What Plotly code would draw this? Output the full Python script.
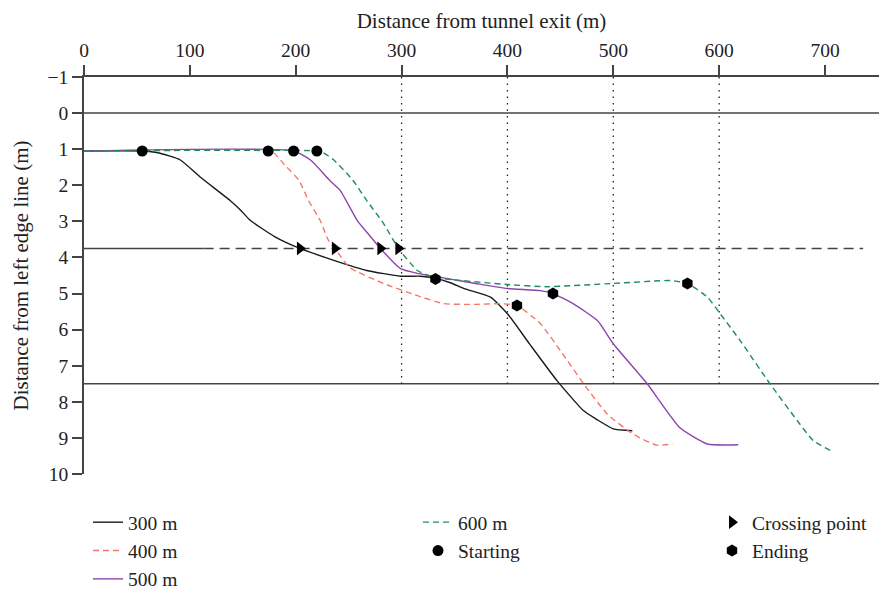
import plotly.graph_objects as go

# ---- data ----
x300 = [0, 55, 70, 91, 110, 138, 148, 157, 180, 204, 236, 267, 299, 318, 332, 346, 360, 384, 400, 421, 447, 472, 485, 500, 518]
y300 = [1.05, 1.05, 1.1, 1.3, 1.78, 2.42, 2.69, 2.97, 3.42, 3.75, 4.08, 4.36, 4.52, 4.52, 4.58, 4.7, 4.87, 5.1, 5.56, 6.4, 7.42, 8.25, 8.5, 8.75, 8.8]

x400 = [0, 174, 180, 190, 203, 212, 223, 231, 237, 251, 283, 315, 340, 370, 393, 409, 431, 450, 472, 494, 519, 541, 556]
y400 = [1.05, 1.05, 1.12, 1.45, 1.86, 2.42, 2.97, 3.53, 3.75, 4.28, 4.72, 5.06, 5.28, 5.3, 5.28, 5.33, 5.83, 6.58, 7.5, 8.33, 8.9, 9.2, 9.17]

x500 = [0, 198, 214, 232, 242, 258, 270, 280, 299, 315, 346, 370, 400, 431, 443, 462, 485, 500, 532, 563, 589, 618]
y500 = [1.05, 1.05, 1.3, 1.86, 2.14, 2.97, 3.4, 3.75, 4.31, 4.44, 4.6, 4.72, 4.86, 4.92, 5.0, 5.28, 5.75, 6.39, 7.5, 8.72, 9.17, 9.19]

x600 = [0, 220, 226, 236, 254, 267, 283, 297, 315, 330, 346, 400, 437, 500, 554, 570, 589, 601, 620, 648, 674, 689, 708]
y600 = [1.05, 1.05, 1.1, 1.3, 1.86, 2.42, 3.06, 3.75, 4.36, 4.55, 4.61, 4.75, 4.81, 4.72, 4.64, 4.72, 5.1, 5.56, 6.31, 7.5, 8.53, 9.08, 9.39]

start_x = [55, 174, 198, 220]
start_y = [1.05, 1.05, 1.05, 1.05]
cross_x = [204, 237, 280, 297]
cross_y = [3.75, 3.75, 3.75, 3.75]
end_x = [332, 409, 443, 570]
end_y = [4.6, 5.33, 5.0, 4.72]

edge_lines_y = [0, 7.5]          # solid lane/edge lines (top -1 is the axis line)
center_line_y = 3.75
center_solid_end = 113
center_dash_end = 736
line_x_end = 751
marker_x = [300, 400, 500, 600]   # dotted vertical reference lines
marker_y_top = -1
marker_y_bottom = 7.5

x_ticks = [0, 100, 200, 300, 400, 500, 600, 700]
y_ticks = list(range(-1, 11))

FONT = "Liberation Serif"
GRAY = "#444444"

fig = go.Figure()

def line_trace(x, y, name, color, dash, legend, rank):
    return go.Scatter(x=x, y=y, mode="lines", name=name,
                      line=dict(color=color, width=1.4, dash=dash, shape="spline", smoothing=0.5),
                      legend=legend, legendrank=rank, legendgroup=name)

fig.add_trace(line_trace(x300, y300, "300 m", "#1a1a1a", "solid", "legend", 1))
fig.add_trace(line_trace(x400, y400, "400 m", "#F4776A", "6px,4px", "legend", 2))
fig.add_trace(line_trace(x500, y500, "500 m", "#8E44AD", "solid", "legend", 3))
fig.add_trace(line_trace(x600, y600, "600 m", "#1E8C5E", "6px,4px", "legend2", 1))

fig.add_trace(go.Scatter(x=start_x, y=start_y, mode="markers", name="Starting",
                         marker=dict(symbol="circle", size=11, color="black"),
                         legend="legend2", legendrank=2, legendgroup="Starting"))
fig.add_trace(go.Scatter(x=cross_x, y=cross_y, mode="markers", name="Crossing point",
                         marker=dict(symbol="triangle-right", size=12, color="black"),
                         legend="legend3", legendrank=1, legendgroup="Crossing"))
fig.add_trace(go.Scatter(x=end_x, y=end_y, mode="markers", name="Ending",
                         marker=dict(symbol="hexagon", size=12, color="black"),
                         legend="legend3", legendrank=2, legendgroup="Ending"))

# reference lines
for yv in edge_lines_y:
    fig.add_shape(type="line", xref="x", yref="y", x0=0, x1=line_x_end, y0=yv, y1=yv,
                  line=dict(color=GRAY, width=1.5), layer="below")
fig.add_shape(type="line", xref="x", yref="y", x0=0, x1=center_solid_end,
              y0=center_line_y, y1=center_line_y, line=dict(color=GRAY, width=1.5), layer="below")
fig.add_shape(type="line", xref="x", yref="y", x0=center_solid_end, x1=center_dash_end,
              y0=center_line_y, y1=center_line_y,
              line=dict(color=GRAY, width=1.5, dash="10px,6px"), layer="below")
for xv in marker_x:
    fig.add_shape(type="line", xref="x", yref="y", x0=xv, x1=xv, y0=marker_y_top, y1=marker_y_bottom,
                  line=dict(color="#222222", width=1.3, dash="1.5px,5px"), layer="below")

W, H = 881, 590
leg_common = dict(orientation="v", xref="container", yref="container", yanchor="top", xanchor="left",
                  font=dict(family=FONT, size=19.5, color="#222"), bgcolor="rgba(0,0,0,0)",
                  tracegroupgap=0, itemwidth=30)

fig.update_layout(
    width=W, height=H,
    margin=dict(l=84, r=2, t=77, b=116, autoexpand=False),
    paper_bgcolor="white", plot_bgcolor="white",
    font=dict(family=FONT, size=19.5, color="#222"),
    xaxis=dict(range=[0, 751], side="top", tickvals=x_ticks, showline=True, linecolor=GRAY,
               linewidth=1.5, ticks="outside", ticklen=10, tickwidth=1.5, tickcolor=GRAY,
               tickangle=0, automargin=False, showgrid=False, zeroline=False,
               title=dict(text="Distance from tunnel exit (m)", font=dict(size=21), standoff=6)),
    yaxis=dict(range=[10, -1], tickvals=y_ticks, showline=True, linecolor=GRAY,
               linewidth=1.5, ticks="outside", ticklen=10, tickwidth=1.5, tickcolor=GRAY,
               automargin=False, showgrid=False, zeroline=False),
    legend=dict(x=88 / W, y=1 - 503 / H, **leg_common),
    legend2=dict(x=418 / W, y=1 - 503 / H, **leg_common),
    legend3=dict(x=712 / W, y=1 - 503 / H, **leg_common),
    annotations=[dict(text="Distance from left edge line (m)", textangle=-90, xref="paper", yref="paper",
                      x=(20 - 84) / 795, y=0.5, xanchor="center", yanchor="middle",
                      showarrow=False, font=dict(family=FONT, size=21, color="#222"))],
)

fig.write_html("out.html")
